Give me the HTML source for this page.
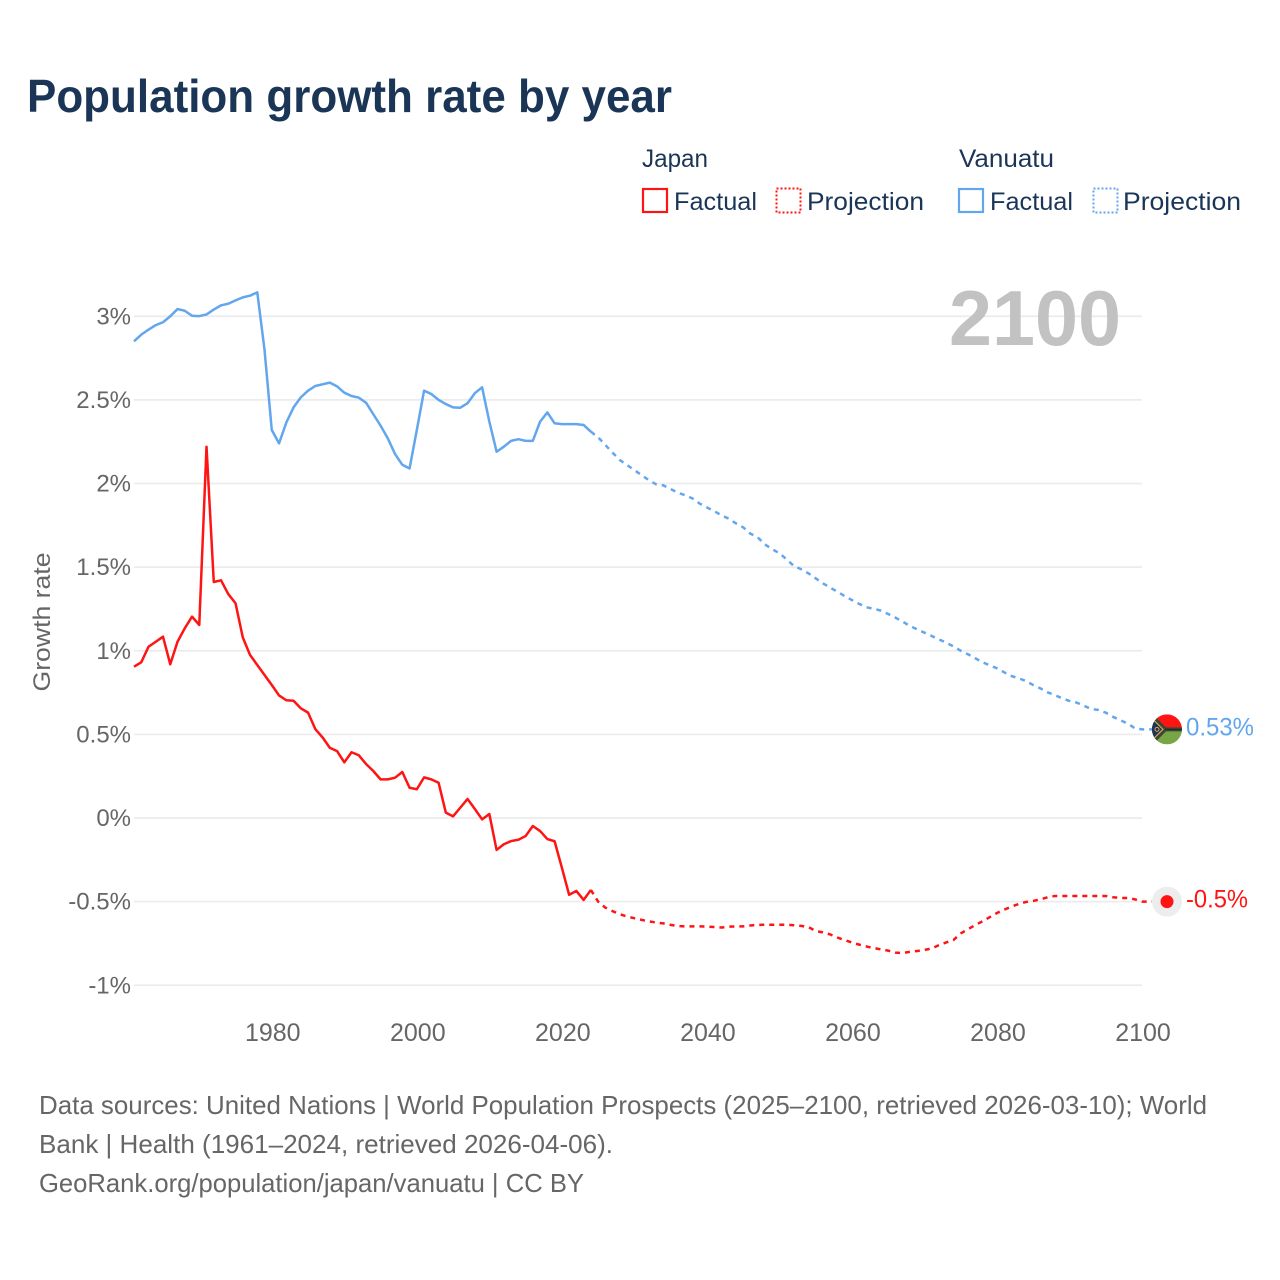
<!DOCTYPE html>
<html lang="en">
<head>
<meta charset="utf-8">
<title>Population growth rate by year</title>
<style>
html,body{margin:0;padding:0;background:#fff}
svg{display:block}
text{font-family:"Liberation Sans",sans-serif}
.tick{font-size:25px;fill:#666}
.ytick{font-size:24px;fill:#666}
.lg{font-size:25px;fill:#1a3556}
.foot{font-size:26px;fill:#666}
</style>
</head>
<body>
<svg id="chart" width="1280" height="1280" viewBox="0 0 1280 1280" xmlns="http://www.w3.org/2000/svg">
  <defs>
    <clipPath id="flag-clip"><circle cx="0" cy="0" r="15"/></clipPath>
  </defs>
  <text x="27" y="112" font-size="46" font-weight="700" fill="#1a3556" textLength="645" lengthAdjust="spacingAndGlyphs">Population growth rate by year</text>

  <g>
    <text class="lg" x="642" y="167" textLength="66" lengthAdjust="spacingAndGlyphs">Japan</text>
    <rect x="643" y="189" width="24" height="23" fill="none" stroke="#ff1414" stroke-width="2.2"/>
    <text class="lg" x="674" y="210" textLength="83" lengthAdjust="spacingAndGlyphs">Factual</text>
    <rect x="776.5" y="188.5" width="24" height="24" fill="none" stroke="#ff1414" stroke-width="2" stroke-dasharray="2 2"/>
    <text class="lg" x="807" y="210" textLength="117" lengthAdjust="spacingAndGlyphs">Projection</text>
    <text class="lg" x="959" y="167" textLength="95" lengthAdjust="spacingAndGlyphs">Vanuatu</text>
    <rect x="959" y="189" width="24" height="23" fill="none" stroke="#62a6ee" stroke-width="2.2"/>
    <text class="lg" x="990" y="210" textLength="83" lengthAdjust="spacingAndGlyphs">Factual</text>
    <rect x="1093.5" y="188.5" width="24" height="24" fill="none" stroke="#62a6ee" stroke-width="2" stroke-dasharray="2 2"/>
    <text class="lg" x="1123" y="210" textLength="118" lengthAdjust="spacingAndGlyphs">Projection</text>
  </g>

  <g id="grid"></g>
  <text x="1121" y="345" text-anchor="end" font-size="78" font-weight="700" fill="#c2c2c2" textLength="172" lengthAdjust="spacingAndGlyphs">2100</text>
  <g id="yticks"></g>
  <g id="xticks"></g>
  <text class="ytick" transform="translate(50,622) rotate(-90)" text-anchor="middle" textLength="139" lengthAdjust="spacingAndGlyphs">Growth rate</text>
  <g id="series"></g>

  <g id="vanuatu-marker">
    <g clip-path="url(#flag-clip)">
      <rect x="-15" y="-15" width="30" height="15" fill="#ff1414"/>
      <rect x="-15" y="0" width="30" height="15" fill="#78a545"/>
      <path d="M-15,-16 L-1,-2 H15 V2 H-1 L-15,16 Z" fill="#3a4a30"/>
      <path d="M-15,-13 L-3,0 L-15,13 Z" fill="#1a3556"/>
      <polyline points="-15,-11 -4,0 -15,11" fill="none" stroke="#e0a050" stroke-width="1.2"/>
      <rect x="-2" y="-0.500" width="17" height="1" fill="#16233a"/>
      <circle cx="-10" cy="0" r="2" fill="none" stroke="#e89a50" stroke-width="1"/>
    </g>
  </g>
  <g id="japan-marker">
    <circle r="15" fill="#ededed"/>
    <circle r="6.500" fill="#ff1414"/>
  </g>
  <text id="vanuatu-end-label" font-size="25" fill="#62a6ee" textLength="68" lengthAdjust="spacingAndGlyphs"></text>
  <text id="japan-end-label" font-size="25" fill="#ff1414" textLength="62" lengthAdjust="spacingAndGlyphs"></text>

  <g>
    <text class="foot" x="39" y="1114" textLength="1168" lengthAdjust="spacingAndGlyphs">Data sources: United Nations | World Population Prospects (2025–2100, retrieved 2026-03-10); World</text>
    <text class="foot" x="39" y="1153" textLength="574" lengthAdjust="spacingAndGlyphs">Bank | Health (1961–2024, retrieved 2026-04-06).</text>
    <text class="foot" x="39" y="1192" textLength="545" lengthAdjust="spacingAndGlyphs">GeoRank.org/population/japan/vanuatu | CC BY</text>
  </g>
</svg>
<script>
const yTickValues = [3, 2.5, 2, 1.5, 1, 0.5, 0, -0.5, -1];
const yTickLabels = ['3%', '2.5%', '2%', '1.5%', '1%', '0.5%', '0%', '-0.5%', '-1%'];
const xTickYears = [1980, 2000, 2020, 2040, 2060, 2080, 2100];
const firstFactualYear = 1961;
const firstProjectionYear = 2024;
const endYear = 2100;

const japanFactual = [
  0.905, 0.931, 1.024, 1.054, 1.084, 0.919, 1.054, 1.134, 1.204, 1.154,
  2.22, 1.411, 1.421, 1.339, 1.284, 1.08, 0.975, 0.915, 0.855, 0.795,
  0.733, 0.704, 0.701, 0.656, 0.63, 0.532, 0.482, 0.42, 0.40, 0.333,
  0.393, 0.375, 0.323, 0.281, 0.231, 0.231, 0.241, 0.275, 0.181, 0.172,
  0.243, 0.231, 0.211, 0.032, 0.01, 0.062, 0.114, 0.054, -0.008, 0.024,
  -0.191, -0.157, -0.138, -0.13, -0.108, -0.048, -0.078, -0.126, -0.139, -0.297,
  -0.459, -0.436, -0.49, -0.43
];
const japanProjection = [
  -0.43, -0.50, -0.536, -0.557, -0.575, -0.59, -0.599, -0.609, -0.618, -0.625,
  -0.63, -0.639, -0.646, -0.648, -0.648, -0.648, -0.649, -0.652, -0.655, -0.65,
  -0.648, -0.648, -0.643, -0.639, -0.638, -0.638, -0.638, -0.638, -0.641, -0.645,
  -0.652, -0.676, -0.684, -0.696, -0.715, -0.73, -0.745, -0.757, -0.768, -0.778,
  -0.785, -0.793, -0.805, -0.807, -0.80, -0.795, -0.789, -0.78, -0.76, -0.744,
  -0.73, -0.69, -0.665, -0.64, -0.618, -0.593, -0.568, -0.548, -0.53, -0.514,
  -0.502, -0.496, -0.486, -0.474, -0.466, -0.466, -0.466, -0.466, -0.466, -0.466,
  -0.466, -0.466, -0.474, -0.478, -0.478, -0.486, -0.50
];
const vanuatuFactual = [
  2.85, 2.89, 2.92, 2.947, 2.964, 3.0, 3.043, 3.033, 3.003, 3.001,
  3.011, 3.04, 3.065, 3.075, 3.095, 3.113, 3.123, 3.143, 2.798, 2.32,
  2.24, 2.364, 2.455, 2.515, 2.555, 2.583, 2.593, 2.603, 2.581, 2.543,
  2.523, 2.513, 2.483, 2.414, 2.346, 2.27, 2.176, 2.112, 2.09, 2.32,
  2.555, 2.535, 2.50, 2.475, 2.455, 2.453, 2.48, 2.54, 2.575, 2.37,
  2.19, 2.22, 2.255, 2.265, 2.255, 2.255, 2.37, 2.425, 2.36, 2.355,
  2.355, 2.355, 2.35, 2.31
];
const vanuatuProjection = [
  2.31, 2.276, 2.23, 2.184, 2.14, 2.11, 2.08, 2.05, 2.02, 1.995,
  1.989, 1.967, 1.945, 1.93, 1.911, 1.88, 1.857, 1.835, 1.81, 1.79,
  1.762, 1.738, 1.70, 1.678, 1.636, 1.607, 1.583, 1.546, 1.507, 1.487,
  1.463, 1.433, 1.403, 1.377, 1.353, 1.327, 1.303, 1.28, 1.26, 1.251,
  1.24, 1.22, 1.198, 1.174, 1.148, 1.128, 1.108, 1.088, 1.068, 1.048,
  1.026, 1.0, 0.979, 0.955, 0.931, 0.913, 0.895, 0.871, 0.849, 0.835,
  0.819, 0.795, 0.775, 0.751, 0.735, 0.715, 0.70, 0.69, 0.671, 0.652,
  0.646, 0.63, 0.605, 0.585, 0.565, 0.537, 0.53
];
const japanEndLabel = '-0.5%';
const vanuatuEndLabel = '0.53%';

const SVG_NS = 'http://www.w3.org/2000/svg';
const xScale = function (year) { return 134 + (year - 1961) * (1142 - 134) / 139; };
const yScale = function (v) { return 818 - v * 167.25; };

function make(tag, parent) {
  const el = document.createElementNS(SVG_NS, tag);
  parent.appendChild(el);
  return el;
}

const grid = document.getElementById('grid');
const yticks = document.getElementById('yticks');
yTickValues.forEach(function (v, i) {
  const line = make('line', grid);
  
  
  line.setAttribute('x1', xScale(1961));
  line.setAttribute('x2', xScale(endYear));
  line.setAttribute('y1', yScale(v));
  line.setAttribute('y2', yScale(v));
  line.setAttribute('stroke', '#ececec');
  line.setAttribute('stroke-width', '1.8');
  const label = make('text', yticks);
  
  
  label.setAttribute('class', 'ytick');
  label.setAttribute('x', 131);
  label.setAttribute('y', yScale(v) + 8);
  label.setAttribute('text-anchor', 'end');
  label.textContent = yTickLabels[i];
});

const xticks = document.getElementById('xticks');
xTickYears.forEach(function (year) {
  const label = make('text', xticks);
  
  
  label.setAttribute('class', 'tick');
  label.setAttribute('x', xScale(year) + 1);
  label.setAttribute('y', 1041);
  label.setAttribute('text-anchor', 'middle');
  label.textContent = String(year);
});

function pathFrom(values, startYear) {
  return values.map(function (v, i) {
    return (i ? 'L' : 'M') + xScale(startYear + i).toFixed(2) + ',' + yScale(v).toFixed(2);
  }).join(' ');
}

const seriesGroup = document.getElementById('series');
function drawLine(values, startYear, color, dashed, name, stub) {
  const p = make('path', seriesGroup);
  
  
  let d = pathFrom(values, startYear);
  if (stub) {
    d += ' L' + (xScale(endYear) + 10) + ',' + yScale(values[values.length - 1]).toFixed(2);
  }
  p.setAttribute('d', d);
  p.setAttribute('fill', 'none');
  p.setAttribute('stroke', color);
  p.setAttribute('stroke-width', '2.5');
  p.setAttribute('stroke-linejoin', 'round');
  if (dashed) {
    p.setAttribute('stroke-dasharray', '5 5');
  }
}
drawLine(vanuatuFactual, firstFactualYear, '#62a6ee', false, 'vanuatu-factual-line', false);
drawLine(vanuatuProjection, firstProjectionYear, '#62a6ee', true, 'vanuatu-projection-line', true);
drawLine(japanFactual, firstFactualYear, '#ff1414', false, 'japan-factual-line', false);
drawLine(japanProjection, firstProjectionYear, '#ff1414', true, 'japan-projection-line', true);

const vanuatuEnd = vanuatuProjection[vanuatuProjection.length - 1];
const japanEnd = japanProjection[japanProjection.length - 1];
const markerX = xScale(endYear) + 25;
document.getElementById('vanuatu-marker').setAttribute('transform', 'translate(' + markerX + ',' + yScale(vanuatuEnd) + ')');
document.getElementById('japan-marker').setAttribute('transform', 'translate(' + markerX + ',' + yScale(japanEnd) + ')');

const vLabel = document.getElementById('vanuatu-end-label');
vLabel.setAttribute('x', markerX + 19);
vLabel.setAttribute('y', yScale(vanuatuEnd) + 6);
vLabel.textContent = vanuatuEndLabel;
const jLabel = document.getElementById('japan-end-label');
jLabel.setAttribute('x', markerX + 19);
jLabel.setAttribute('y', yScale(japanEnd) + 6);
jLabel.textContent = japanEndLabel;
</script>
</body>
</html>
